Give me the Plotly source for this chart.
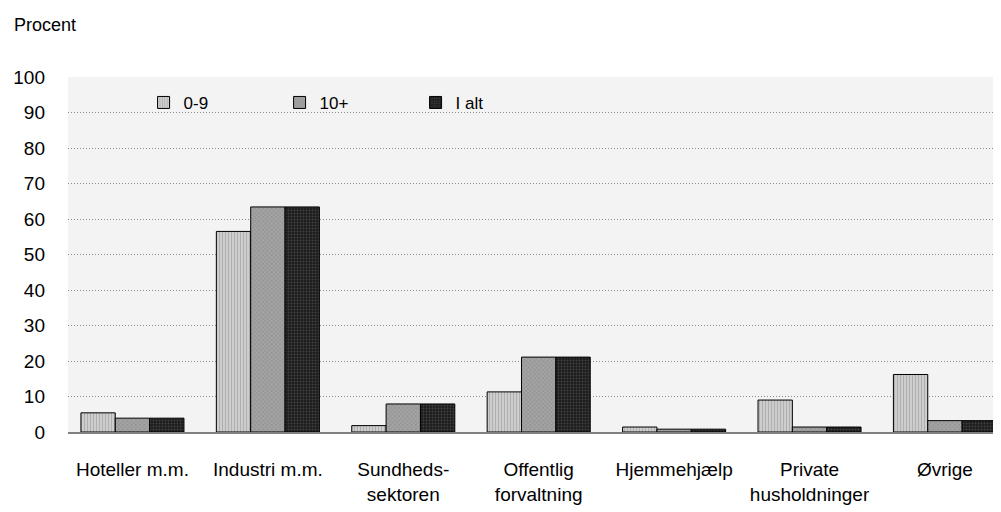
import plotly.graph_objects as go

categories = ["Hoteller m.m.", "Industri m.m.", "Sundheds-<br>sektoren", "Offentlig<br>forvaltning",
              "Hjemmehjælp", "Private<br>husholdninger", "Øvrige"]
series_names = ["0-9", "10+", "I alt"]
values_0_9 = [5.4, 56.5, 1.8, 11.3, 1.4, 9.0, 16.2]
values_10p = [3.9, 63.4, 7.9, 21.1, 0.8, 1.4, 3.2]
values_ialt = [3.9, 63.4, 7.9, 21.1, 0.8, 1.4, 3.2]
y_ticks = list(range(0, 101, 10))

FONT = "Liberation Sans, Arial, sans-serif"

styles = [
    dict(color="#cdcdcd", pattern=dict(shape="|", fgcolor="#8a8a8a", size=3, solidity=0.3)),
    dict(color="#a4a4a4", pattern=dict(shape="x", fgcolor="#6a6a6a", size=3, solidity=0.3)),
    dict(color="#1c1c1c", pattern=dict(shape=".", fgcolor="#6a6a6a", size=3, solidity=0.3)),
]

fig = go.Figure()
for name, vals, st in zip(series_names, [values_0_9, values_10p, values_ialt], styles):
    fig.add_trace(go.Bar(
        name=name, x=categories, y=vals,
        marker=dict(color=st["color"], pattern=st["pattern"],
                    line=dict(color="#000000", width=1)),
    ))

# page body has an 8px margin; figure coordinates are offset accordingly
L, T, W_PLOT, H_PLOT = 60, 69, 933, 355
fig.update_layout(
    width=1001, height=512,
    margin=dict(l=L, r=1001 - L - W_PLOT, t=T, b=512 - T - H_PLOT, autoexpand=False),
    paper_bgcolor="white",
    plot_bgcolor="#f3f3f3",
    barmode="group", bargap=0.239, bargroupgap=0,
    font=dict(family=FONT, size=19, color="#000000"),
    showlegend=True,
    legend=dict(orientation="h", x=0.081, y=0.927, xanchor="left", yanchor="middle",
                bgcolor="rgba(0,0,0,0)", font=dict(size=17),
                entrywidth=91, entrywidthmode="pixels", traceorder="normal"),
    annotations=[dict(text="Procent", xref="paper", yref="paper", x=(4 - L) / W_PLOT,
                      y=(T + H_PLOT - 17) / H_PLOT,
                      xanchor="left", yanchor="middle", showarrow=False,
                      font=dict(size=18, family=FONT))],
)
fig.update_yaxes(range=[0, 100], tickvals=y_ticks, showgrid=True, gridcolor="#8c8c8c",
                 griddash="1px,2px", gridwidth=1, zeroline=False, showline=False,
                 ticks="", ticklabelstandoff=22, fixedrange=True, automargin=False)
fig.update_xaxes(range=[-0.476, 6.414], showline=True, linecolor="#808080", linewidth=2,
                 ticks="", ticklabelstandoff=19, showgrid=False, fixedrange=True,
                 automargin=False)

fig.write_html("out.html")
